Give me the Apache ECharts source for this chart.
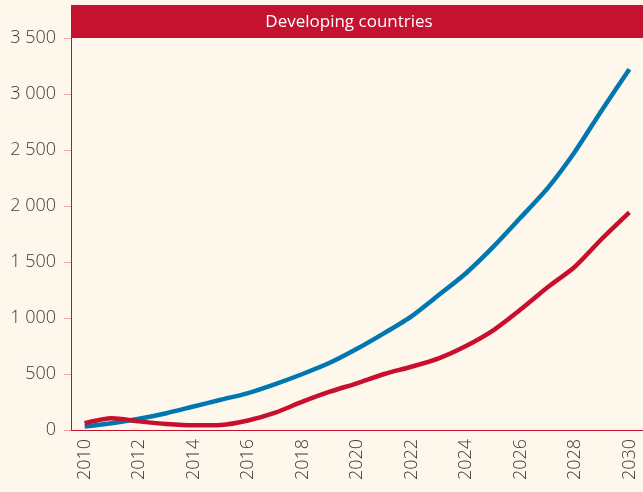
<!DOCTYPE html>
<html>
<head>
<meta charset="utf-8">
<script src="https://cdn.jsdelivr.net/npm/echarts@6/dist/echarts.min.js"></script>
<style>
  html, body { margin: 0; padding: 0; background: #fef7eb; }
  #chart { width: 643px; height: 492px; }
</style>
</head>
<body>
<div id="chart"></div>
<script>
// ---- data ----
var years = ['2010', '2011', '2012', '2013', '2014', '2015', '2016', '2017', '2018', '2019', '2020',
             '2021', '2022', '2023', '2024', '2025', '2026', '2027', '2028', '2029', '2030'];
var blueValues = [30, 60, 100, 150, 210, 270, 330, 410, 500, 600, 725,
                  865, 1015, 1205, 1400, 1635, 1895, 2160, 2485, 2860, 3220];
var redValues = [60, 104, 77, 54, 42, 45, 85, 155, 253, 342, 417,
                 500, 565, 640, 750, 890, 1075, 1275, 1458, 1710, 1944];
var panelTitle = 'Developing countries';

var red = '#c41230';
var tickPink = '#eea3a3';
var textGrey = '#3a3a3a';

var chart = echarts.init(document.getElementById('chart'));

chart.setOption({
  backgroundColor: '#fef7eb',
  animation: false,
  textStyle: { fontFamily: 'Open Sans' },
  graphic: [
    {
      type: 'rect',
      shape: { x: 71, y: 5, width: 580, height: 33 },
      style: { fill: red }
    },
    {
      type: 'text',
      x: 349, y: 22,
      style: {
        text: panelTitle,
        fill: '#ffffff',
        font: '17px "Open Sans"',
        textAlign: 'center',
        textVerticalAlign: 'middle'
      }
    }
  ],
  grid: { left: 71, right: -7, top: 38, bottom: 62 },
  xAxis: {
    type: 'category',
    data: years,
    boundaryGap: true,
    axisLine: { lineStyle: { color: red, width: 1 } },
    axisTick: { interval: 0, length: 7, lineStyle: { color: tickPink } },
    axisLabel: {
      interval: 1,
      rotate: 90,
      margin: 9,
      fontSize: 18,
      fontWeight: 300,
      color: textGrey
    }
  },
  yAxis: {
    type: 'value',
    min: 0,
    max: 3500,
    interval: 500,
    splitLine: { show: false },
    axisLine: { show: true, lineStyle: { color: red, width: 1 } },
    axisTick: { show: true, length: 7, lineStyle: { color: tickPink } },
    axisLabel: {
      margin: 15,
      fontSize: 18,
      fontWeight: 300,
      color: textGrey,
      formatter: function (v) {
        return String(v).replace(/\B(?=(\d{3})+(?!\d))/g, ' ');
      }
    }
  },
  series: [
    {
      name: 'Blue',
      type: 'line',
      data: blueValues,
      symbol: 'none',
      smooth: 0.25,
      lineStyle: { color: '#0077b0', width: 4.5 }
    },
    {
      name: 'Red',
      type: 'line',
      data: redValues,
      symbol: 'none',
      smooth: 0.25,
      lineStyle: { color: '#c8102e', width: 4.5 }
    }
  ]
});
</script>
</body>
</html>
